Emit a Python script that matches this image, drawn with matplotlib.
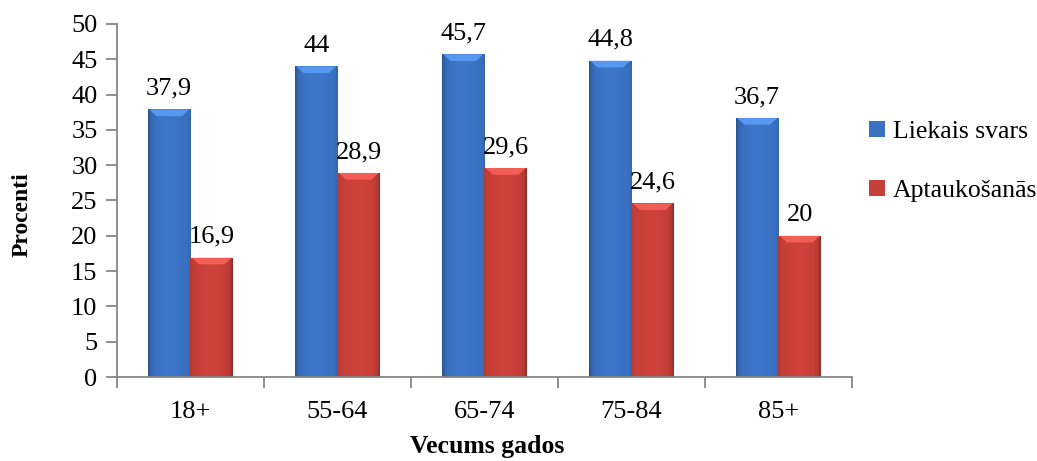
import numpy as np
import matplotlib

matplotlib.use("Agg")
import matplotlib.pyplot as plt
from matplotlib.colors import to_rgb
from matplotlib.patches import Polygon

categories = ["18+", "55-64", "65-74", "75-84", "85+"]
liekais_svars = [37.9, 44, 45.7, 44.8, 36.7]
aptaukosanas = [16.9, 28.9, 29.6, 24.6, 20]
value_labels_1 = ["37,9", "44", "45,7", "44,8", "36,7"]
value_labels_2 = ["16,9", "28,9", "29,6", "24,6", "20"]

plt.rcParams["font.family"] = ["Liberation Serif", "DejaVu Serif"]

BLUE = "#3a71c2"
RED = "#c63f38"
AXIS_GREY = "#868686"


def _shaded(ax, bars, base, dark_left):
    """Cylinder-like horizontal gradient plus a lighter bevelled cap on each bar."""
    c = np.array(to_rgb(base))
    t = np.linspace(0, 1, 64)
    edge = t if dark_left else 1 - t
    shade = 1.0 - 0.28 * np.exp(-edge / 0.06) - 0.10 * np.exp(-(1 - edge) / 0.05)
    shade += 0.05 * np.exp(-((t - 0.5) ** 2) / 0.05)
    row = np.clip(c[None, :] * shade[:, None], 0, 1)
    img = np.repeat(row[None, :, :], 2, axis=0)
    top = np.clip(c * 1.18 + 0.12, 0, 1)
    for b in bars:
        x0, y0 = b.get_x(), b.get_y()
        w, h = b.get_width(), b.get_height()
        b.set_facecolor("none")
        b.set_edgecolor("none")
        im = ax.imshow(img, extent=[x0, x0 + w, y0, y0 + h], aspect="auto",
                       interpolation="bilinear", zorder=2)
        im.set_clip_path(b)
        # bevelled cap: light band narrowing downward
        cap = 0.95
        ax.add_patch(Polygon([(x0 + w * 0.03, y0 + h), (x0 + w * 0.97, y0 + h),
                              (x0 + w * 0.80, y0 + h - cap), (x0 + w * 0.20, y0 + h - cap)],
                             closed=True, facecolor=top, edgecolor="none",
                             alpha=0.75, zorder=3))


fig = plt.figure(figsize=(10.37, 4.61), dpi=100)
ax = fig.add_axes([0.1128, 0.1822, 0.7088, 0.7658])

x = np.arange(len(categories))
w = 0.29
b1 = ax.bar(x - w / 2, liekais_svars, w, color=BLUE, label="Liekais svars", zorder=2)
b2 = ax.bar(x + w / 2, aptaukosanas, w, color=RED, label="Aptaukošanās", zorder=2)
_shaded(ax, b1, BLUE, dark_left=True)
_shaded(ax, b2, RED, dark_left=False)

for xi, v, s in zip(x - w / 2, liekais_svars, value_labels_1):
    ax.text(xi, v + 2.1, s, ha="center", va="baseline", fontsize=19)
for xi, v, s in zip(x + w / 2, aptaukosanas, value_labels_2):
    ax.text(xi, v + 2.1, s, ha="center", va="baseline", fontsize=19)

ax.set_xlim(-0.5, len(categories) - 0.5)
ax.set_ylim(0, 50)
ax.set_yticks(np.arange(0, 51, 5))
ax.set_xticks(x)
ax.set_xticklabels(categories)
ax.set_xticks(np.arange(-0.5, len(categories)), minor=True)
ax.tick_params(axis="x", which="major", length=0, pad=17, labelsize=19)
ax.tick_params(axis="x", which="minor", length=8, color=AXIS_GREY, width=1.3, direction="out")
ax.tick_params(axis="y", length=8, color=AXIS_GREY, width=1.3, direction="out",
               labelsize=19, pad=6)

for side in ("top", "right"):
    ax.spines[side].set_visible(False)
for side in ("left", "bottom"):
    ax.spines[side].set_color(AXIS_GREY)
    ax.spines[side].set_linewidth(1.3)

fig.text(0.021, 0.535, "Procenti", rotation=90, ha="center", va="center",
         fontsize=17, fontweight="bold")
fig.text(0.47, 0.006, "Vecums gados", ha="center", va="bottom",
         fontsize=18.5, fontweight="bold")

leg = fig.legend(handles=[b1, b2], loc="center left", bbox_to_anchor=(0.826, 0.65),
                 frameon=False, fontsize=18.5, handlelength=0.6, handleheight=0.6,
                 handletextpad=0.3, labelspacing=1.45, borderpad=0)
for h, col in zip(leg.legend_handles, (BLUE, RED)):
    h.set_facecolor(col)
    h.set_edgecolor("none")

fig.savefig("out.png", dpi=100)
